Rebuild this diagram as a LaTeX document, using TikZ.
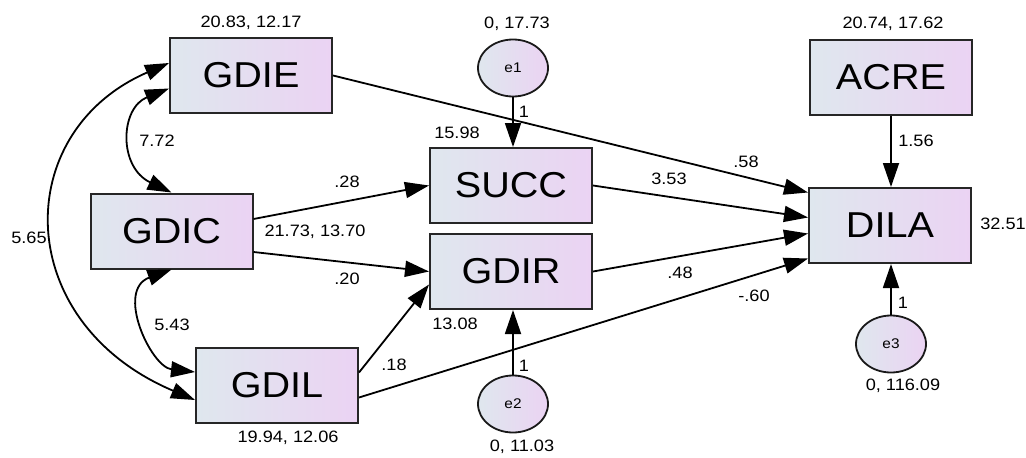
\documentclass[tikz,border=0pt]{standalone}
\usepackage{fontspec}
\setmainfont{Liberation Sans}[FakeStretch=1.1]
\usetikzlibrary{shapes.geometric,arrows.meta,calc}
\definecolor{boxL}{RGB}{223,231,238}
\definecolor{boxR}{RGB}{235,211,243}
\tikzset{
  obs/.style={draw=black!85, line width=2pt, minimum width=162pt, minimum height=75pt,
    inner sep=0pt, left color=boxL, right color=boxR, font=\fontsize{36}{42}\selectfont},
  err/.style={ellipse, draw=black!90, line width=1.8pt, minimum width=70pt, minimum height=57pt,
    inner sep=0pt, left color=boxL, right color=boxR, font=\fontsize{14}{16}\selectfont},
  lab/.style={font=\fontsize{16.5}{19}\selectfont, inner sep=0pt},
  arr/.style={-{Triangle[length=24pt,width=16pt]}, line width=1.8pt},
  dbl/.style={{Triangle[length=24pt,width=16pt]}-{Triangle[length=24pt,width=16pt]}, line width=1.8pt}
}
\begin{document}
\begin{tikzpicture}[x=1pt,y=-1pt]
\useasboundingbox[fill=white] (0,0) rectangle (1026,458);
% observed variables
\node[obs] (GDIE) at (251,75.5) {GDIE};
\node[obs] (GDIC) at (171.5,231) {GDIC};
\node[obs] (GDIL) at (277,385.5) {GDIL};
\node[obs] (SUCC) at (511,185.5) {SUCC};
\node[obs] (GDIR) at (511,271.5) {GDIR};
\node[obs] (ACRE) at (891,77) {ACRE};
\node[obs] (DILA) at (890,225.5) {DILA};
% errors
\node[err] (e1) at (513,68) {e1};
\node[err] (e2) at (513,404) {e2};
\node[err] (e3) at (891,344) {e3};
% regression paths
\draw[arr] (GDIE.east) -- ($(DILA.west)+(0,-33)$);
\draw[arr] (SUCC.east) -- ($(DILA.west)+(0,-8)$);
\draw[arr] (GDIR.east) -- ($(DILA.west)+(0,8)$);
\draw[arr] ($(GDIL.east)+(0,12)$) -- ($(DILA.west)+(0,33)$);
\draw[arr] ($(GDIC.east)+(0,-12)$) -- (SUCC.west);
\draw[arr] ($(GDIC.east)+(0,21)$) -- (GDIR.west);
\draw[arr] ($(GDIL.east)+(0,-13)$) -- ($(GDIR.west)+(0,13)$);
\draw[arr] (e1.south) -- (e1.south |- SUCC.north);
\draw[arr] (e2.north) -- (e2.north |- GDIR.south);
\draw[arr] (e3.north) -- (e3.north |- DILA.south);
\draw[arr] (ACRE.south) -- (ACRE.south |- DILA.north);
% covariances
\draw[dbl] ($(GDIE.west)+(0,13)$) .. controls (120,108) and (118,167) .. (GDIC.north);
\draw[dbl] (GDIC.south) .. controls (115,290) and (151,367) .. ($(GDIL.west)+(0,-13.5)$);
\draw[dbl] ($(GDIE.west)+(0,-12.5)$) .. controls (10,132) and (11,322) .. ($(GDIL.west)+(0,14.5)$);
% labels
\node[lab] (lGDIE) at (251,23) {20.83, 12.17};
\node[lab] (lGDIC) at (315,232) {21.73, 13.70};
\node[lab] (lGDIL) at (288,438) {19.94, 12.06};
\node[lab] (lACRE) at (893,24) {20.74, 17.62};
\node[lab] (lDILA) at (1003,224) {32.51};
\node[lab] (lSUCC) at (457,133) {15.98};
\node[lab] (lGDIR) at (455,324) {13.08};
\node[lab] (le1) at (517,24) {0, 17.73};
\node[lab] (le2) at (522,447) {0, 11.03};
\node[lab] (le3) at (903,386) {0, 116.09};
\node[lab] (c772) at (157,141) {7.72};
\node[lab] (c543) at (172,325) {5.43};
\node[lab] (c565) at (29,238) {5.65};
\node[lab] (p28) at (347,182) {.28};
\node[lab] (p20) at (347,279) {.20};
\node[lab] (p18) at (394,365) {.18};
\node[lab] (p353) at (669,179) {3.53};
\node[lab] (p58) at (746,162) {.58};
\node[lab] (p48) at (680,273) {.48};
\node[lab] (p60) at (754,296) {-.60};
\node[lab] (p156) at (916,141) {1.56};
\node[lab] (f1) at (524,112) {1};
\node[lab] (f2) at (524,366) {1};
\node[lab] (f3) at (903,303) {1};
\end{tikzpicture}
\end{document}
